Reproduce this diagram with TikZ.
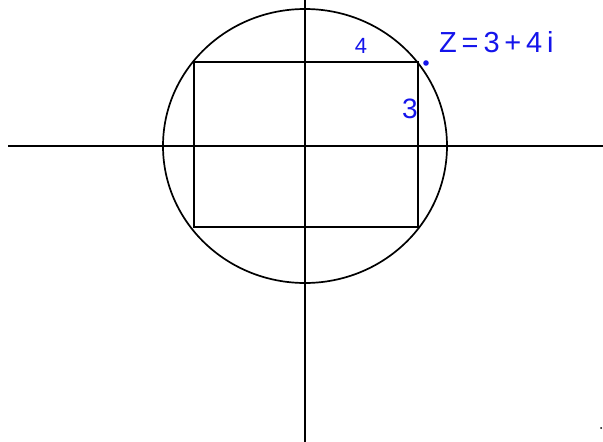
\documentclass[tikz,border=0pt]{standalone}
\usepackage{fontspec}
\setmainfont{Liberation Sans}
\definecolor{pen}{RGB}{20,20,235}
\begin{document}
\begin{tikzpicture}[x=1pt,y=-1pt,
  ln/.style={line width=1.7pt,black},
  hw/.style={text=pen,inner sep=0pt}]
\useasboundingbox (0,0) rectangle (603,442);
\coordinate (o) at (305,146);
\coordinate (xl) at (8,146);
\coordinate (xr) at (603,146);
\coordinate (yt) at (305,0);
\coordinate (yb) at (305,442);
\draw[ln] (xl) -- (xr);
\draw[ln] (yt) -- (yb);
\draw[ln] (o) ellipse [x radius=142, y radius=137];
\coordinate (r1) at (194,62);
\coordinate (r2) at (418,227);
\draw[ln] (r1) rectangle (r2);
\fill[pen] (426,63) circle (2.8) node (pt) {};
\node[hw, anchor=west, font=\fontsize{29}{29}\selectfont] (zl) at (439,42) {Z\,=\,3\,+\,4\,i};
\node[hw, font=\fontsize{22}{22}\selectfont] (four) at (361,46) {4};
\node[hw, font=\fontsize{28}{28}\selectfont] (three) at (410,109) {3};
\fill[black] (601,428) circle (1) node (dot) {};
\end{tikzpicture}
\end{document}
